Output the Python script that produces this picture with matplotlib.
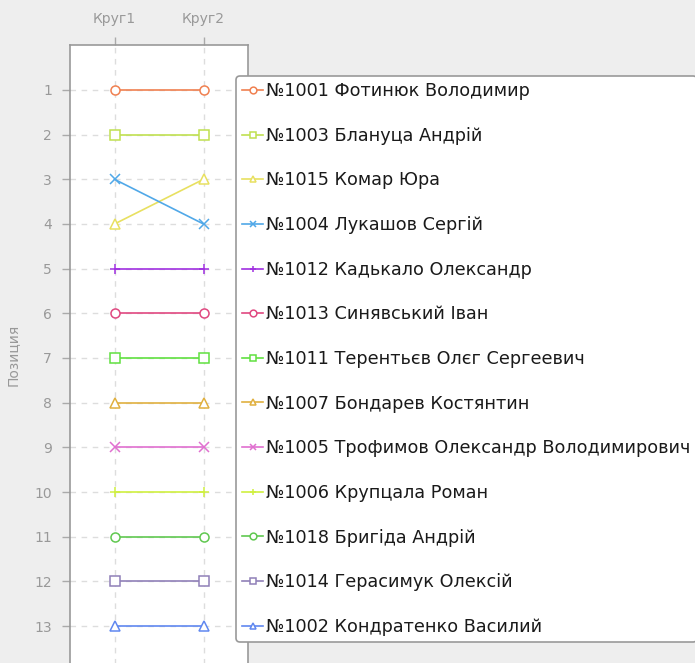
import matplotlib
matplotlib.use("Agg")
import matplotlib.pyplot as plt

rounds = ["Круг1", "Круг2"]
labels = [
    "№1001 Фотинюк Володимир",
    "№1003 Блануца Андрій",
    "№1015 Комар Юра",
    "№1004 Лукашов Сергій",
    "№1012 Кадькало Олександр",
    "№1013 Синявський Іван",
    "№1011 Терентьєв Олєг Сергеевич",
    "№1007 Бондарев Костянтин",
    "№1005 Трофимов Олександр Володимирович",
    "№1006 Крупцала Роман",
    "№1018 Бригіда Андрій",
    "№1014 Герасимук Олексій",
    "№1002 Кондратенко Василий",
]
pos_round1 = [1, 2, 4, 3, 5, 6, 7, 8, 9, 10, 11, 12, 13]
pos_round2 = [1, 2, 3, 4, 5, 6, 7, 8, 9, 10, 11, 12, 13]
colors = ["#f08050", "#c0e050", "#e8e060", "#50a8e8", "#a030e0", "#e04880",
          "#60e040", "#e0b040", "#e070d0", "#d0f040", "#60c850", "#9080b8", "#6088f0"]
markers = ["o", "s", "^", "x", "+", "o", "s", "^", "x", "+", "o", "s", "^"]

W, H = 695, 663
fig = plt.figure(figsize=(W / 100, H / 100), dpi=100)
fig.patch.set_facecolor("#eeeeee")

top_px, bot_px = 45.3, 670.7
ax = fig.add_axes([70 / W, 1 - bot_px / H, 178 / W, (bot_px - top_px) / H])
ax.set_facecolor("white")

xs = list(range(len(rounds)))
for lab, p1, p2, c, m in zip(labels, pos_round1, pos_round2, colors, markers):
    ax.plot(xs, [p1, p2], color=c, marker=m, markersize=6.5, markerfacecolor="white",
            markeredgecolor=c, markeredgewidth=1.1, linewidth=1.2, label=lab, clip_on=False)

ax.set_xlim(-0.5, 1.5)
ax.set_ylim(14, 0)
ax.set_xticks(xs)
ax.set_xticklabels(rounds)
ax.set_yticks(range(1, 14))
ax.xaxis.tick_top()
ax.tick_params(axis="both", colors="#aaaaaa", labelcolor="#999999", labelsize=10,
               length=6, width=1)
ax.tick_params(axis="y", pad=7)
ax.tick_params(axis="x", pad=8)
ax.grid(True, color="#dddddd", linestyle=(0, (4, 4)), linewidth=1)
ax.set_axisbelow(True)
for side in ["left", "top", "right"]:
    ax.spines[side].set_color("#999999")
    ax.spines[side].set_linewidth(1.2)
ax.spines["bottom"].set_visible(False)

fig.text(13 / W, 1 - 355 / H, "Позиция", rotation=90, ha="center", va="center",
         color="#999999", fontsize=10)

leg = fig.legend(loc="upper left", bbox_to_anchor=(236 / W, 1 - 76 / H),
                 fontsize=12.7, frameon=True, fancybox=True, handlelength=1.2,
                 handletextpad=0.15, borderpad=0.35, borderaxespad=0, labelspacing=1.51,
                 markerscale=0.75)
frame = leg.get_frame()
frame.set_edgecolor("#999999")
frame.set_linewidth(1.2)
frame.set_facecolor("white")
frame.set_alpha(1)
for t in leg.get_texts():
    t.set_color("#1a1a1a")

fig.savefig("out.png", dpi=100, facecolor=fig.get_facecolor())
